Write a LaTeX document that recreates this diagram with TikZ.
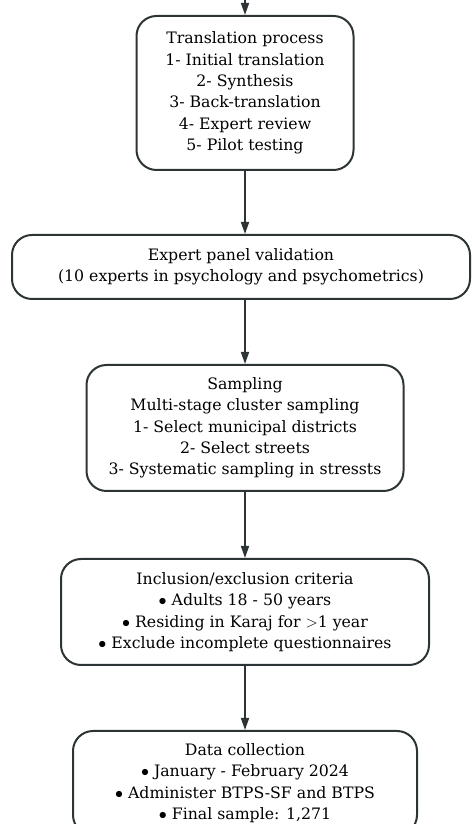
\documentclass[tikz,border=0pt]{standalone}
\usepackage{fontspec}
\setmainfont{DejaVu Serif}
\usetikzlibrary{positioning,arrows.meta}

\definecolor{lineclr}{RGB}{45,52,54}

\tikzset{every picture/.style={line width=0.75pt}}
\tikzset{
  stagebox/.style={draw=lineclr, line width=1.5pt, rounded corners=15pt, align=center,
    font=\fontsize{11.8pt}{16pt}\selectfont, inner sep=0pt},
  flowarrow/.style={draw=lineclr, line width=1.2pt, -{Triangle[length=9pt,width=6pt]}}
}

\begin{document}
\begin{tikzpicture}[x=0.75pt,y=0.75pt]
\useasboundingbox (0,0) rectangle (471,824);
\clip (0,0) rectangle (471,824);

%Rounded Rect [id:translation]
\node [stagebox, minimum width=162.75pt, minimum height=115.5pt] (transl) at (245,731)
  {Translation process\\1- Initial translation\\2- Synthesis\\3- Back-translation\\4- Expert review\\5- Pilot testing};
%Rounded Rect [id:panel]
\node [stagebox, minimum width=343.5pt, minimum height=48pt, below=47.25pt of transl, xshift=-3pt] (panel)
  {Expert panel validation\\(10 experts in psychology and psychometrics)};
%Rounded Rect [id:sampling]
\node [stagebox, minimum width=237.75pt, minimum height=94.5pt, below=48pt of panel, xshift=3pt] (sampling)
  {Sampling\\Multi-stage cluster sampling\\1- Select municipal districts\\2- Select streets\\3- Systematic sampling in stressts};
%Rounded Rect [id:criteria]
\node [stagebox, minimum width=276pt, minimum height=79.5pt, below=49.5pt of sampling] (criteria)
  {Inclusion/exclusion criteria\\$\bullet$ Adults 18 - 50 years\\$\bullet$ Residing in Karaj for $>$1 year\\$\bullet$ Exclude incomplete questionnaires};
%Rounded Rect [id:collection]
\node [stagebox, minimum width=258pt, minimum height=78pt, below=48pt of criteria] (collection)
  {Data collection\\$\bullet$ January - February 2024\\$\bullet$ Administer BTPS-SF and BTPS\\$\bullet$ Final sample: 1,271};

%Straight Lines [id:incoming]
\coordinate (start) at (245,834);
\draw [flowarrow] (start) -- (transl.north);
%Straight Lines [id:arrows]
\draw [flowarrow] (transl.south) -- (transl.south |- panel.north);
\draw [flowarrow] (transl.south |- panel.south) -- (sampling.north);
\draw [flowarrow] (sampling.south) -- (criteria.north);
\draw [flowarrow] (criteria.south) -- (collection.north);

\end{tikzpicture}
\end{document}
